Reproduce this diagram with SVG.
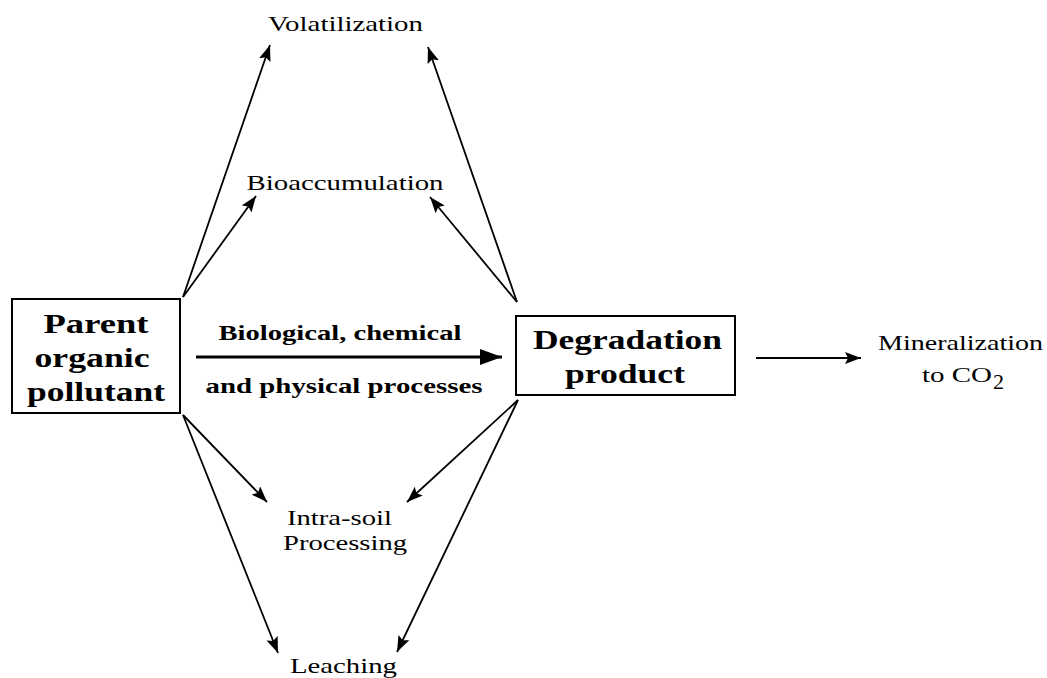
<svg xmlns="http://www.w3.org/2000/svg" width="1047" height="678" viewBox="0 0 1047 678">
<style>
.box{fill:#fff;stroke:#000;stroke-width:2}
.bt{font-family:"Liberation Serif","Times New Roman",serif;font-weight:bold;font-size:27px;fill:#000}
.pt{font-family:"Liberation Serif","Times New Roman",serif;font-weight:bold;font-size:22px;fill:#000}
.lt{font-family:"Liberation Serif","Times New Roman",serif;font-size:22px;fill:#000}
.ln{stroke:#000;stroke-width:1.8;fill:none;marker-end:url(#ah)}
</style>
<defs>
<marker id="ah" viewBox="0 0 16 12" refX="16" refY="6" markerWidth="16" markerHeight="12" markerUnits="userSpaceOnUse" orient="auto">
<path d="M0,0 L16,6 L0,12 L3,6 Z" fill="#000"/>
</marker>
<marker id="ahb" viewBox="0 0 22 16" refX="22" refY="8" markerWidth="22" markerHeight="16" markerUnits="userSpaceOnUse" orient="auto">
<path d="M0,0 L22,8 L0,16 Z" fill="#000"/>
</marker>
</defs>
<rect width="1047" height="678" fill="#fff"/>
<g id="connectors">
<line class="ln" x1="183" y1="297" x2="270" y2="45"/>
<line class="ln" x1="183" y1="297" x2="256" y2="196"/>
<line class="ln" x1="517" y1="302" x2="428" y2="47"/>
<line class="ln" x1="517" y1="302" x2="430" y2="197"/>
<line class="ln" x1="183" y1="415" x2="267" y2="502"/>
<line class="ln" x1="183" y1="415" x2="278" y2="653"/>
<line class="ln" x1="518" y1="400" x2="407" y2="502"/>
<line class="ln" x1="518" y1="400" x2="397" y2="652"/>
<line class="ln" x1="756" y1="358" x2="861" y2="358"/>
<line x1="196" y1="357" x2="502" y2="357" stroke="#000" stroke-width="3.2" marker-end="url(#ahb)"/>
<text class="pt" x="340" y="340" text-anchor="middle" textLength="243" lengthAdjust="spacingAndGlyphs">Biological, chemical</text>
<text class="pt" x="344" y="393" text-anchor="middle" textLength="277" lengthAdjust="spacingAndGlyphs">and physical processes</text>
</g>
<g id="parent">
<rect class="box" x="12" y="299" width="168" height="114"/>
<text class="bt" x="96" y="333" text-anchor="middle" textLength="105" lengthAdjust="spacingAndGlyphs">Parent</text>
<text class="bt" x="92" y="367" text-anchor="middle" textLength="115" lengthAdjust="spacingAndGlyphs">organic</text>
<text class="bt" x="96" y="401" text-anchor="middle" textLength="138" lengthAdjust="spacingAndGlyphs">pollutant</text>
</g>
<g id="degradation">
<rect class="box" x="516" y="316" width="219" height="79"/>
<text class="bt" x="627.5" y="349" text-anchor="middle" textLength="189" lengthAdjust="spacingAndGlyphs">Degradation</text>
<text class="bt" x="625" y="383" text-anchor="middle" textLength="120" lengthAdjust="spacingAndGlyphs">product</text>
</g>
<g id="volatilization">
<text class="lt" x="345.5" y="31" text-anchor="middle" textLength="155" lengthAdjust="spacingAndGlyphs">Volatilization</text>
</g>
<g id="bioaccumulation">
<text class="lt" x="345" y="190" text-anchor="middle" textLength="197" lengthAdjust="spacingAndGlyphs">Bioaccumulation</text>
</g>
<g id="intrasoil">
<text class="lt" x="339.5" y="525" text-anchor="middle" textLength="105" lengthAdjust="spacingAndGlyphs">Intra-soil</text>
<text class="lt" x="345" y="550" text-anchor="middle" textLength="124" lengthAdjust="spacingAndGlyphs">Processing</text>
</g>
<g id="leaching">
<text class="lt" x="343.5" y="673" text-anchor="middle" textLength="107" lengthAdjust="spacingAndGlyphs">Leaching</text>
</g>
<g id="mineralization">
<text class="lt" x="960.5" y="350" text-anchor="middle" textLength="165" lengthAdjust="spacingAndGlyphs">Mineralization</text>
<text class="lt" x="922" y="382" textLength="70" lengthAdjust="spacingAndGlyphs">to CO</text>
<text class="lt" x="993" y="389" font-size="15">2</text>
</g>
</svg>
